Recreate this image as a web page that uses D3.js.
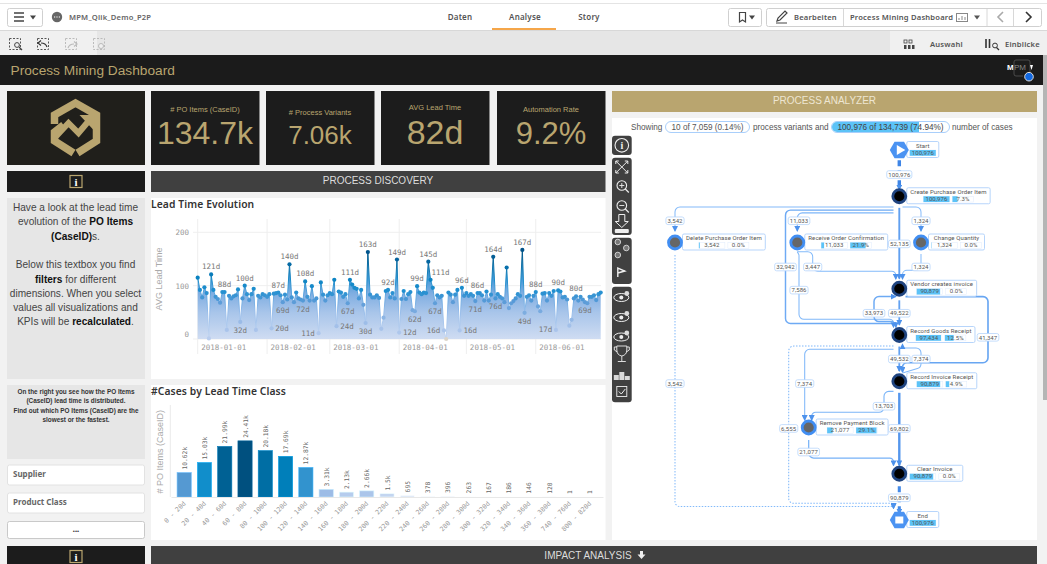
<!DOCTYPE html>
<html>
<head>
<meta charset="utf-8">
<title>Process Mining Dashboard</title>
<script src="https://cdnjs.cloudflare.com/ajax/libs/d3/7.8.5/d3.min.js"></script>
<style>
    html, body { margin: 0; padding: 0; background: #fff; overflow: hidden; }
    svg { display: block; }
    text { font-family: "Liberation Sans", Arial, sans-serif; }
    .mono text, text.mono { font-family: "DejaVu Sans Mono", monospace; }
    .ui { font-family: "Noto Sans", sans-serif; font-weight: 600; fill: #555; }
    .graph { font-family: Roboto, sans-serif; fill: #555; font-size: 6px; letter-spacing: .1px; }
</style>
</head>
<body>
<div id="container"></div>
<script>
// kpi tiles
const kpiTitles = ['# PO Items (CaseID)', '# Process Variants', 'AVG Lead Time', 'Automation Rate'];
const kpiValues = ['134.7k', '7.06k', '82d', '9.2%'];

// lead time evolution, one value per day from 2018-01-01
const leadTime = [
    115, 92, 78, 97, 86, 1, 121, 92, 79, 75, 68, 88, 88, 17, 81, 76, 80, 82, 93, 32,
    76, 100, 84, 73, 84, 94, 17, 81, 78, 84, 82, 79, 84, 20, 85, 86, 87, 82, 69, 83,
    74, 140, 78, 69, 87, 76, 74, 72, 108, 79, 72, 99, 72, 76, 11, 106, 83, 72, 82, 86,
    84, 111, 24, 89, 87, 79, 84, 67, 111, 102, 96, 94, 76, 92, 64, 30, 163, 83, 78, 78,
    82, 77, 19, 40, 90, 92, 78, 86, 76, 149, 12, 75, 90, 75, 84, 88, 54, 52, 99, 87,
    84, 87, 86, 145, 111, 96, 67, 82, 78, 81, 16, 0, 87, 83, 69, 83, 92, 16, 96, 81,
    86, 81, 84, 81, 71, 86, 86, 82, 72, 89, 72, 83, 154, 76, 84, 79, 76, 69, 134, 58,
    67, 71, 76, 84, 81, 167, 49, 79, 82, 72, 81, 88, 61, 52, 85, 86, 72, 86, 81, 90,
    17, 91, 89, 78, 79, 74, 25, 36, 76, 80, 72, 79, 74, 69, 67, 79, 79, 82, 73, 84, 87
];
const pointLabelIdx = [6, 12, 19, 21, 33, 36, 38, 41, 47, 48, 54, 62, 67, 68, 75, 76, 85, 89, 90, 97, 98, 103, 104, 106, 110, 117, 118, 124, 125, 132, 133, 145, 146, 151, 160, 161, 169, 173];
const pointLabelText = ['121d', '88d', '32d', '100d', '20d', '87d', '69d', '140d', '72d', '108d', '11d', '24d', '67d', '111d', '30d', '163d', '92d', '149d', '12d', '62d', '99d', '145d', '111d', '67d', '16d', '16d', '96d', '71d', '86d', '164d', '76d', '167d', '49d', '88d', '17d', '90d', '80d', '69d'];
const leadTicks = [0, 100, 200];

// cases by lead time class
const classNames = ['0 - 20d', '20 - 40d', '40 - 60d', '60 - 80d', '80 - 100d', '100 - 120d', '120 - 140d', '140 - 160d', '160 - 180d', '180 - 200d', '200 - 220d', '220 - 240d', '240 - 260d', '260 - 280d', '280 - 300d', '300 - 320d', '320 - 340d', '340 - 360d', '360 - 380d', '740 - 760d', '800 - 820d'];
const classCases = [10620, 15030, 21990, 24410, 20180, 17690, 12870, 3310, 2130, 2660, 1500, 695, 378, 396, 263, 167, 186, 146, 120, 1, 1];

// process graph nodes
const nodeNames = ['Start', 'Create Purchase Order Item', 'Delete Purchase Order Item', 'Receive Order Confirmation', 'Change Quantity', 'Vendor creates invoice', 'Record Goods Receipt', 'Record Invoice Receipt', 'Remove Payment Block', 'Clear Invoice', 'End'];
const nodeCases = [100976, 100976, 3542, 11033, 1324, 90879, 97434, 90879, 21077, 90879, 100976];
const nodeRework = [null, 7.3, 0, 21.9, 0, 0, 12.5, 4.9, 29.1, 0, null];
const nodeLane = ['main', 'main', 'del', 'recv', 'chg', 'main', 'main', 'main', 'rmv', 'main', 'main'];
const nodeRow = [0, 1, 2, 2, 2, 3, 4, 5, 6, 7, 8];

// process graph edges
const edgeFrom = ['Start', 'Create', 'Create', 'Create', 'Create', 'Create', 'Receive', 'Receive', 'Change', 'Vendor', 'Goods', 'Vendor', 'Goods', 'Invoice', 'Goods', 'Goods', 'Invoice', 'Invoice', 'Remove', 'Clear', 'Delete'];
const edgeTo = ['Create', 'Delete', 'Goods', 'Receive', 'Change', 'Vendor', 'Goods', 'Vendor', 'Vendor', 'Goods', 'Vendor', 'Invoice', 'Invoice', 'Goods', 'Remove', 'End', 'Remove', 'Clear', 'Clear', 'End', 'End'];
const edgeCases = [100976, 3542, 32942, 11033, 1324, 52135, 7586, 3447, 1324, 49522, 33973, 41347, 49532, 7374, 7374, 6555, 13703, 69802, 21077, 90879, 3542];

const width = 1047;
const height = 564;
const gold = '#b9a56f';
const fmt = d3.format(',');

const svg = d3.select('#container')
    .append('svg')
    .attr('width', width)
    .attr('height', height);

const defs = svg.append('defs');

// helper for plain rects
function box(parent, x, y, w, h, fill, stroke, r) {
    return parent.append('rect')
        .attr('x', x).attr('y', y)
        .attr('width', w).attr('height', h)
        .attr('rx', r || 0)
        .style('fill', fill)
        .style('stroke', stroke || 'none');
}

function label(parent, x, y, txt, size, color, anchor) {
    return parent.append('text')
        .attr('x', x).attr('y', y)
        .attr('text-anchor', anchor || 'middle')
        .style('font-size', size + 'px')
        .style('fill', color)
        .text(txt);
}

function stroked(parent, d, color, w) {
    return parent.append('path')
        .attr('d', d)
        .style('fill', 'none')
        .style('stroke', color)
        .style('stroke-width', w || 1);
}

// ---- app chrome ----
box(svg, 0, 0, width, height, '#f2f2f2');
box(svg, 0, 0, width, 31, '#fff');
svg.append('line').attr('x1', 0).attr('x2', width).attr('y1', 3.5).attr('y2', 3.5).style('stroke', '#e4e4e4');
svg.append('line').attr('x1', 0).attr('x2', width).attr('y1', 30.5).attr('y2', 30.5).style('stroke', '#d8d8d8');
box(svg, 0, 31, width, 24, '#e6e6e6');
box(svg, 0, 31, 97, 24, '#f0f0f0');
box(svg, 890, 31, 157, 24, '#f0f0f0');
box(svg, 1043, 55, 4, 345, '#b5b5b5');

// top row left
box(svg, 7.5, 8.5, 35, 18, '#fff', '#d0d0d0', 2);
stroked(svg, 'M14 13h10M14 17h10M14 21h10', '#444', 1.4);
svg.append('path').attr('d', 'M30 15.5h6l-3 4z').style('fill', '#444');
svg.append('circle').attr('cx', 57).attr('cy', 17).attr('r', 5.2).style('fill', '#666');
stroked(svg, 'M54 17h6', '#fff', 1.2).style('stroke-dasharray', '1.2 1.2');
svg.append('text').attr('class', 'ui').attr('x', 69).attr('y', 20).style('font-size', '7.6px').style('letter-spacing', '.2px').style('fill', '#666').text('MPM_Qlik_Demo_P2P');

// tabs
[['Daten', 460], ['Analyse', 525], ['Story', 589]].forEach(([t, x]) => {
    svg.append('text').attr('class', 'ui').attr('x', x).attr('y', 19.5).attr('text-anchor', 'middle')
        .style('font-size', '8px').style('letter-spacing', '.2px').text(t);
});
box(svg, 492, 28, 64, 2, '#f5a64a');

// top row right
box(svg, 728.5, 8.5, 33, 18, '#fff', '#d0d0d0', 2);
stroked(svg, 'M739.5 12.5h6v9.5l-3-2-3 2z', '#444', 1.2);
svg.append('path').attr('d', 'M749 15.5h6l-3 4z').style('fill', '#444');
box(svg, 766.5, 8.5, 275, 18, '#fff', '#d0d0d0', 2);
[843.5, 987, 1013.5].forEach((x) => {
    svg.append('line').attr('x1', x).attr('x2', x).attr('y1', 9).attr('y2', 26).style('stroke', '#d8d8d8');
});
stroked(svg, 'M777 21l1-3 7-7 2 2-7 7zM776 23h11', '#444', 1.2);
svg.append('text').attr('class', 'ui').attr('x', 794).attr('y', 20).style('font-size', '7.6px').style('letter-spacing', '.2px').text('Bearbeiten');
svg.append('text').attr('class', 'ui').attr('x', 850).attr('y', 20).style('font-size', '7.6px').style('letter-spacing', '.2px').text('Process Mining Dashboard');
box(svg, 956.5, 13.5, 11, 8, 'none', '#888');
stroked(svg, 'M959 20v-2M962 20v-4M965 20v-3', '#888', 1);
svg.append('path').attr('d', 'M974 15.5h6l-3 4z').style('fill', '#555');
stroked(svg, 'M1003 12l-5 5 5 5', '#aaa', 1.6);
stroked(svg, 'M1026 12l5 5-5 5', '#333', 1.6);

// second row, selection tools
[15, 43, 71, 99].forEach((x, i) => {
    box(svg, x - 5.5, 38.5, 11, 11, 'none', i < 2 ? '#555' : '#bbb').style('stroke-dasharray', '2 1.5');
});
svg.append('circle').attr('cx', 17).attr('cy', 45).attr('r', 2.4).style('fill', '#f0f0f0').style('stroke', '#444');
stroked(svg, 'M19 47l3 3', '#444', 1.2);
stroked(svg, 'M47 47c-1-3-3-4-6-4M41 40.500l-3 2.500 3 2.500', '#333', 1.2);
stroked(svg, 'M68 48c1-3 3-4 6-4M74 41.500l3 2.500-3 2.500', '#bbb', 1.2);
svg.append('circle').attr('cx', 101).attr('cy', 46).attr('r', 2.5).style('fill', '#f0f0f0').style('stroke', '#bbb');

box(svg, 904, 40, 3, 3, 'none', '#444').style('stroke-width', .8);
box(svg, 909, 40, 3, 3, 'none', '#444').style('stroke-width', .8);
box(svg, 904, 45, 2.5, 4, '#444');
box(svg, 908, 45, 2.5, 4, '#444');
box(svg, 912, 45, 2.5, 4, '#444');
svg.append('text').attr('class', 'ui').attr('x', 930).attr('y', 47).style('font-size', '7.6px').style('letter-spacing', '.2px').text('Auswahl');
stroked(svg, 'M986 39v9M989.500 39v9', '#333', 1.6);
svg.append('circle').attr('cx', 995).attr('cy', 45.500).attr('r', 2.400).style('fill', 'none').style('stroke', '#333');
stroked(svg, 'M996.500 47.500l2.500 2.500', '#333', 1.200);
svg.append('text').attr('class', 'ui').attr('x', 1005).attr('y', 47).style('font-size', '7.6px').style('letter-spacing', '.2px').text('Einblicke');

// dashboard title bar
box(svg, 0, 55, 1043, 30, '#1b1b1b');
label(svg, 10.5, 74.5, 'Process Mining Dashboard', 13.7, gold, 'start');
label(svg, 1007, 70, 'M', 8, '#fff', 'start').style('font-weight', 'bold');
label(svg, 1014, 70, 'PM', 8, '#888', 'start');
stroked(svg, 'M1016 60h12q2 0 2 2v11M1016 60q-2 0-2 2v12q0 2 2 2h7', '#555', .8);
svg.append('path').attr('d', 'M1030 65h3l-1.500 5z').style('fill', '#fff');
svg.append('circle').attr('cx', 1029).attr('cy', 76.700).attr('r', 4.300).style('fill', '#1268e0').style('stroke', '#ddd').style('stroke-width', 1);

// logo tile
box(svg, 7, 91, 138, 74, '#201f1b');
const logo = svg.append('g').attr('transform', 'translate(75.500,128)');
stroked(logo, 'M-21 -4V-13L0 -25L21 -13V13L2 25', gold, 7.500).style('stroke-linejoin', 'miter');
stroked(logo, 'M-2 25L-21 13V4L-12 -3', gold, 7.500);
stroked(logo, 'M-20 9L-7 -5L3 5L14 -8', gold, 6);
logo.append('path').attr('d', 'M4 -13H19V3z').style('fill', gold);

// kpi tiles
const kpiX = [151, 266, 381, 497];
const kpiSizes = [32, 26, 34, 31];
const kpiTitleY = [110, 113, 108, 110];
kpiTitles.forEach((t, i) => {
    box(svg, kpiX[i], 91, 108.500, 74, '#1c1c1c');
    label(svg, kpiX[i] + 54, kpiTitleY[i] + 2, t, 7.500, gold);
    label(svg, kpiX[i] + 54, 144, kpiValues[i], kpiSizes[i], gold);
});

// dark section bars
function infoBar(y, h) {
    box(svg, 7, y, 138, h, '#1c1c1c');
    box(svg, 70, y + 4.500, 12, 12, 'none', gold).style('stroke-width', 1.200);
    label(svg, 76, y + 14.500, 'i', 11, '#fff').style('font-weight', 'bold').style('font-family', 'Liberation Serif');
}
infoBar(171, 21);
infoBar(546, 18);
box(svg, 151, 171, 454.500, 21, '#404040');
label(svg, 378, 184, 'PROCESS DISCOVERY', 10, '#ddd');
box(svg, 151, 546, 886, 18, '#404040');
label(svg, 588, 558.500, 'IMPACT ANALYSIS', 10, '#ddd');
svg.append('path').attr('d', 'M640 551h3v3.500h2.500l-4 4.500-4-4.500h2.500z').style('fill', '#eee');

// left text boxes
box(svg, 7, 198, 138, 181, '#e6e6e6');
const introLines = [
    ['Have a look at the lead time'],
    ['evolution of the ', '*PO Items'],
    ['*(CaseID)', 's.'],
    [],
    ['Below this textbox you find'],
    ['*filters', ' for different'],
    ['dimensions. When you select'],
    ['values all visualizations and'],
    ['KPIs will be ', '*recalculated', '.']
];
introLines.forEach((parts, i) => {
    const line = label(svg, 75.500, 211 + i * 14.300, '', 10.100, '#444');
    parts.forEach((p) => {
        const isBold = p[0] === '*';
        line.append('tspan')
            .style('font-weight', isBold ? 'bold' : 'normal')
            .style('fill', isBold ? '#111' : '#444')
            .text(isBold ? p.slice(1) : p);
    });
});
box(svg, 7, 385, 138, 74, '#e6e6e6');
['On the right you see how the PO Items', '(CaseID) lead time is distributed.', 'Find out which PO Items (CaseID) are the', 'slowest or the fastest.'].forEach((t, i) => {
    label(svg, 76, 394 + i * 9.400, t, 6.400, '#333').style('font-weight', 'bold');
});
[[465, 'Supplier'], [493, 'Product Class']].forEach(([y, t]) => {
    box(svg, 7.500, y, 137, 20, '#fff', '#e2e2e2', 2);
    label(svg, 13, y + 12, t, 8, '#666', 'start').style('font-weight', 'bold').style('font-family', 'Noto Sans');
});
box(svg, 7.500, 521.500, 137, 17, '#fff', '#c9c9c9', 2);
label(svg, 76, 533, '•••', 6, '#444');

// ---- lead time evolution ----
box(svg, 151, 198, 454.500, 181, '#fff');
label(svg, 151, 208, 'Lead Time Evolution', 10.300, '#333', 'start').style('font-family', 'Noto Sans').style('font-weight', '600').style('letter-spacing', '.1px');

const dates = d3.utcDay.range(new Date(Date.UTC(2018, 0, 1)), new Date(Date.UTC(2018, 6, 1)));
const lineData = leadTime.map((v, i) => ({ date: dates[i], value: v, index: i }));

const xTime = d3.scaleUtc()
    .domain([dates[0], dates[dates.length - 1]])
    .range([197.700, 600.700]);
const yLead = d3.scaleLinear()
    .domain([0, 200])
    .range([339, 232.300]);

// gradients run over the value range so they use user space
function valueGradient(id, domain, colors) {
    const g = defs.append('linearGradient')
        .attr('id', id)
        .attr('gradientUnits', 'userSpaceOnUse')
        .attr('x1', 0).attr('x2', 0)
        .attr('y1', yLead(0)).attr('y2', yLead(170));
    domain.forEach((d, i) => {
        g.append('stop').attr('offset', d / 170).attr('stop-color', colors[i]);
    });
}
valueGradient('leadArea', [0, 50, 85, 110, 170], ['#cfdcf2', '#a8c5ea', '#80aee1', '#4a9cd9', '#0b6ca6']);
valueGradient('leadLine', [0, 50, 85, 110, 170], ['#c4d6f1', '#98bdea', '#5aa3de', '#1b8cca', '#00517f']);

const leadColor = d3.scaleLinear()
    .domain([0, 1, 30, 70, 90, 115, 170])
    .range(['#dcd5c9', '#b9cdee', '#9dbde8', '#5a9bd8', '#1f8fd0', '#0a82c0', '#004f85']);

const xTimeAxis = d3.axisBottom(xTime)
    .tickValues(d3.utcMonth.range(dates[0], dates[dates.length - 1]))
    .tickFormat(d3.utcFormat('%Y-%m-%d'))
    .tickSize(0);
const yLeadAxis = d3.axisLeft(yLead)
    .tickValues(leadTicks)
    .tickSize(0)
    .tickPadding(4);

// grid first, marks above
const leadGrid = svg.append('g');
leadTicks.forEach((t) => {
    leadGrid.append('line')
        .attr('x1', 193).attr('x2', 601)
        .attr('y1', yLead(t)).attr('y2', yLead(t))
        .style('stroke', '#efefef');
});
xTimeAxis.tickValues().forEach((t) => {
    leadGrid.append('line')
        .attr('x1', xTime(t)).attr('x2', xTime(t))
        .attr('y1', 219).attr('y2', 354)
        .style('stroke', '#eeeeee');
});

svg.append('path')
    .datum(lineData)
    .attr('d', d3.area().x((d) => xTime(d.date)).y0(yLead(0)).y1((d) => yLead(d.value)))
    .style('fill', 'url(#leadArea)');
svg.append('path')
    .datum(lineData)
    .attr('d', d3.line().x((d) => xTime(d.date)).y((d) => yLead(d.value)))
    .style('fill', 'none')
    .style('stroke', 'url(#leadLine)')
    .style('stroke-width', 1);
svg.selectAll('circle.lead')
    .data(lineData)
    .enter()
    .append('circle')
    .attr('class', 'lead')
    .attr('cx', (d) => xTime(d.date))
    .attr('cy', (d) => yLead(d.value))
    .attr('r', 2.100)
    .style('fill', (d) => leadColor(d.value));

const xG = svg.append('g')
    .attr('class', 'mono')
    .attr('transform', `translate(0, ${yLead(0)})`)
    .call(xTimeAxis);
xG.select('.domain').remove();
xG.selectAll('text')
    .attr('text-anchor', 'start')
    .attr('x', 3)
    .attr('y', 6)
    .style('font-size', '7.500px')
    .style('fill', '#999');

const yG = svg.append('g')
    .attr('class', 'mono')
    .attr('transform', 'translate(193, 0)')
    .call(yLeadAxis);
yG.select('.domain').remove();
yG.selectAll('text')
    .attr('y', (d) => d === 0 ? -5 : 0)
    .style('font-size', '7.500px')
    .style('fill', '#999');

svg.append('text')
    .attr('transform', 'translate(162, 279) rotate(-90)')
    .attr('text-anchor', 'middle')
    .style('font-size', '9px')
    .style('fill', '#aaa')
    .text('AVG Lead Time');

// where the value labels sit around their point
const sideOffset = { top: [0, -5], bottom: [0, 11], left: [-10.500, 2.500], right: [10.500, 2.500], upright: [10, -5] };
const leftLabels = [54, 110, 160];
const rightLabels = [33, 62, 90, 117];
svg.selectAll('text.pointLabel')
    .data(pointLabelIdx)
    .enter()
    .append('text')
    .attr('class', 'pointLabel mono')
    .attr('text-anchor', 'middle')
    .attr('x', (d) => {
        return xTime(dates[d]) + sideOffset[placeOf(d)][0];
    })
    .attr('y', (d) => {
        return yLead(leadTime[d]) + sideOffset[placeOf(d)][1];
    })
    .style('font-size', '7.500px')
    .style('fill', '#777')
    .text((d, i) => pointLabelText[i]);

function placeOf(i) {
    if (leftLabels.includes(i)) return 'left';
    if (rightLabels.includes(i)) return 'right';
    if (i === 104) return 'upright';
    return leadTime[i] < 80 ? 'bottom' : 'top';
}

// ---- cases by lead time class ----
box(svg, 151, 385, 454.500, 155, '#fff');
label(svg, 151, 395, '#Cases by Lead Time Class', 10.300, '#333', 'start').style('font-family', 'Noto Sans').style('font-weight', '600').style('letter-spacing', '.1px');

const xClass = d3.scaleBand()
    .domain(classNames)
    .range([171, 603])
    .padding(0.3);
const yCases = d3.scaleLinear()
    .domain([0, 40000])
    .range([497, 405]);
const casesColor = d3.scaleLinear()
    .domain([0, 600, 3300, 10600, 15000, 17700, 24400])
    .range(['#e8eff9', '#d6e2f5', '#9dbce6', '#5599d2', '#118ecb', '#007fba', '#00507f']);
const casesLabel = (v) => v >= 1000 ? +(v / 1000).toFixed(2) + 'k' : String(v);

svg.selectAll('rect.bar')
    .data(classCases)
    .enter()
    .append('rect')
    .attr('class', 'bar')
    .attr('x', (d, i) => xClass(classNames[i]))
    .attr('y', (d) => yCases(d))
    .attr('width', xClass.bandwidth())
    .attr('height', (d) => yCases(0) - yCases(d))
    .style('fill', (d) => casesColor(d))
    .style('stroke', (d) => d3.color(casesColor(d)).brighter(0.6))
    .style('stroke-width', 0.6);

svg.selectAll('text.barLabel')
    .data(classCases)
    .enter()
    .append('text')
    .attr('class', 'barLabel mono')
    .attr('transform', (d, i) => `translate(${xClass(classNames[i]) + xClass.bandwidth() / 2 + 2.500}, ${yCases(d) - 3}) rotate(-90)`)
    .style('font-size', '6.300px')
    .style('fill', '#666')
    .text((d) => casesLabel(d));

const xClassAxis = d3.axisBottom(xClass).tickSize(0);
const classG = svg.append('g')
    .attr('class', 'mono')
    .attr('transform', `translate(0, ${yCases(0)})`)
    .call(xClassAxis);
classG.select('.domain').style('stroke', '#e8e8e8');
classG.selectAll('text')
    .attr('text-anchor', 'end')
    .attr('x', 0)
    .attr('y', 0)
    .attr('dy', 0)
    .attr('transform', 'translate(2, 7) rotate(-45)')
    .style('font-size', '6.500px')
    .style('fill', '#999');

svg.append('line')
    .attr('x1', 170.300).attr('x2', 170.300)
    .attr('y1', 405).attr('y2', 497)
    .style('stroke', '#eaeaea');
svg.append('text')
    .attr('transform', 'translate(163, 451.700) rotate(-90)')
    .attr('text-anchor', 'middle')
    .style('font-size', '9px')
    .style('fill', '#aaa')
    .text('# PO Items (CaseID)');

// ---- process analyzer ----
box(svg, 612, 91, 425, 21, gold);
label(svg, 824.500, 104, 'PROCESS ANALYZER', 10, '#eee6d2');
box(svg, 612, 118, 425, 422, '#fff');

// showing line
const showY = 130;
label(svg, 631, showY, 'Showing', 8.200, '#555', 'start');
label(svg, 753, showY, 'process variants and', 8.200, '#555', 'start');
label(svg, 952, showY, 'number of cases', 8.200, '#555', 'start');
box(svg, 665.500, 121.500, 84, 11, '#fff', '#a9cffb', 5.500);
box(svg, 831.500, 121.500, 118, 11, '#fff', '#a9cffb', 5.500);
svg.append('path').attr('d', 'M837 122h82v10h-82a5 5 0 0 1 0-10z').style('fill', '#5cc3f7');
label(svg, 707.500, showY, '10 of 7,059 (0.14%)', 8.200, '#555');
label(svg, 890.500, showY, '100,976 of 134,739 (74.94%)', 8.200, '#444');

// tool strip
const tools = svg.append('g');
[[135.700, 19.300], [157.700, 77.300], [237.700, 46.300], [286.700, 115.600]].forEach(([y, h]) => {
    box(tools, 612, y, 19.700, h, '#404040', null, 3);
});
const cx = 621.800;
function ring(y, r) {
    tools.append('circle').attr('cx', cx).attr('cy', y).attr('r', r).style('fill', 'none').style('stroke', '#eee').style('stroke-width', 1.100);
}
ring(145.300, 6.800);
label(tools, cx, 149, 'i', 10, '#eee').style('font-weight', 'bold').style('font-family', 'Liberation Serif');
stroked(tools, `M${cx - 6} 161l12 12M${cx + 6} 161l-12 12M${cx - 6} 164v-3h3M${cx + 6} 170v3h-3M${cx + 3} 161h3v3M${cx - 6} 170v3h3`, '#eee', 1);
[185.500, 205.500].forEach((y, i) => {
    ring(y, 4.800);
    stroked(tools, `M${cx - 2.500} ${y}h5` + (i === 0 ? `M${cx} ${y - 2.500}v5` : ''), '#eee', .9);
    stroked(tools, `M${cx + 3.500} ${y + 3.500}l3.500 3.500`, '#eee', 1.200);
});
tools.append('path').attr('d', `M${cx - 3} 214.500h6v7h3.500l-6.500 6-6.500-6h3.500z`).style('fill', 'none').style('stroke', '#eee');
box(tools, cx - 7, 229, 14, 4, '#eee', null, 1);
[[-4, 242], [4.500, 248], [-4, 255]].forEach(([dx, y]) => {
    tools.append('circle').attr('cx', cx + dx).attr('cy', y).attr('r', 2.800).style('fill', '#777').style('stroke', '#ddd').style('stroke-width', .9);
});
stroked(tools, `M${cx - 4} 277v-9l7 3-7 2`, '#eee', 1.400);
[295.500, 315.500, 335].forEach((y) => {
    tools.append('ellipse').attr('cx', cx - .5).attr('cy', y + 2).attr('rx', 7.500).attr('ry', 4).style('fill', 'none').style('stroke', '#eee');
    tools.append('circle').attr('cx', cx - .5).attr('cy', y + 2).attr('r', 2).style('fill', '#eee');
    tools.append('circle').attr('cx', cx + 5).attr('cy', y - 2).attr('r', 2.400).style('fill', '#ddd');
});
stroked(tools, `M${cx - 5} 346h10v4q0 5-5 6q-5-1-5-6zM${cx} 356v5M${cx - 4} 361.500h8M${cx - 5} 347h-2.500v3l3 2M${cx + 5} 347h2.500v3l-3 2`, '#eee', .9);
box(tools, cx - 8, 375, 5, 5, '#d8d8d8');
box(tools, cx - 2.500, 372, 5, 8, '#d8d8d8');
box(tools, cx + 3, 376, 5, 4, '#d8d8d8');
box(tools, cx - 5, 386.500, 10, 10, 'none', '#eee').style('stroke-width', .9);
stroked(tools, `M${cx - 3} 391.500l2.500 2.500l4-5`, '#eee', 1);

// graph scales, rows are process steps, lanes are the vertical runs of the layout
const yRow = d3.scaleLinear().domain([0, 8]).range([150, 520]);
const xLane = d3.scaleOrdinal()
    .domain(['del', 'far', 'dot', 'recv', 'drop', 'back', 'rmv', 'in', 'fork', 'loop', 'kink', 'inL', 'inL2', 'main', 'inR', 'outR', 'chg', 'wide'])
    .range([675, 785.500, 788.700, 797.300, 799, 804.700, 808.700, 811.700, 812.700, 874, 884, 893.500, 895.800, 899.300, 902.500, 905.500, 921, 988]);

// lane and row of every bend of every edge, and where its count sits
const routes = [
    { pts: [['main', 0.22], ['main', 0.86]], at: ['main', 0.53] },
    { pts: [['inL', 1.232], ['del', 1.232], ['del', 1.75]], at: ['del', 1.53] },
    { pts: [['inL', 1.3], ['far', 1.3], ['far', 3.75], ['inL2', 3.75], ['inL2', 3.83]], at: ['far', 2.53] },
    { pts: [['inL', 1.36], ['recv', 1.36], ['recv', 1.75]], at: ['drop', 1.53] },
    { pts: [['inR', 1.232], ['chg', 1.232], ['chg', 1.75]], at: ['chg', 1.53] },
    { pts: [['main', 1.25], ['main', 2.78]], at: ['main', 2.03] },
    { pts: [['recv', 2.2], ['drop', 2.27], ['drop', 3.66], ['inL', 3.66], ['inL', 3.83]], at: ['drop', 3.03] },
    { pts: [['recv', 2.2], ['fork', 2.2], ['fork', 2.62], ['inL2', 2.62], ['inL2', 2.79]], at: ['fork', 2.53] },
    { pts: [['chg', 2.25], ['chg', 2.6], ['inR', 2.6], ['inR', 2.79]], at: ['chg', 2.53] },
    { pts: [['main', 3.25], ['main', 3.78]], at: ['main', 3.53] },
    { pts: [['inL', 3.71], ['loop', 3.71], ['loop', 3.17], ['inL2', 3.17]], at: ['loop', 3.53] },
    { pts: [['outR', 3.17], ['wide', 3.17], ['wide', 4.6], ['inR', 4.6], ['inR', 4.8]], at: ['wide', 4.05] },
    { pts: [['main', 4.25], ['main', 4.78]], at: ['main', 4.52] },
    { pts: [['inR', 4.82], ['chg', 4.7], ['chg', 4.28], ['inR', 4.28], ['inR', 4.2]], at: ['chg', 4.52] },
    { pts: [['inL', 4.31], ['back', 4.31], ['back', 5.84]], at: ['back', 5.05] },
    { pts: [['inL', 4.24], ['dot', 4.24], ['dot', 7.64], ['inL', 7.64], ['inL', 7.74]], at: ['dot', 6.02] },
    { pts: [['inL', 5.22], ['kink', 5.22], ['kink', 5.67], ['in', 5.67], ['in', 5.84]], at: ['kink', 5.54] },
    { pts: [['main', 5.25], ['main', 6.82]], at: ['main', 6.02] },
    { pts: [['rmv', 6.27], ['rmv', 6.66], ['inL', 6.66], ['inL', 6.82]], at: ['rmv', 6.53] },
    { pts: [['main', 7.27], ['main', 7.86]], at: ['main', 7.52] },
    { pts: [['del', 2.27], ['del', 7.71], ['inL', 7.71], ['inL', 7.75]], at: ['del', 5.05] }
];

const edgeColor = d3.scaleLinear().domain([0, 100000]).range(['#85bcfb', '#3f86e6']);
const edgeWidth = d3.scalePow().exponent(1.5).domain([0, 100000]).range([1, 3.400]);

defs.append('marker')
    .attr('id', 'arrow')
    .attr('viewBox', '0 0 6 6')
    .attr('refX', 5).attr('refY', 3)
    .attr('markerWidth', 6).attr('markerHeight', 6)
    .attr('markerUnits', 'userSpaceOnUse')
    .attr('orient', 'auto')
    .append('path')
    .attr('d', 'M0 0L6 3L0 6z')
    .style('fill', '#4d92ec');

// orthogonal route with rounded bends, short legs get a smaller radius
function routePath(pts) {
    const p = d3.path();
    const xy = pts.map(([l, r]) => [xLane(l), yRow(r)]);
    const len = (a, b) => Math.hypot(a[0] - b[0], a[1] - b[1]);
    p.moveTo(xy[0][0], xy[0][1]);
    xy.slice(1, -1).forEach((c, i) => {
        const a = xy[i];
        const b = xy[i + 2];
        const r = Math.min(5, len(a, c) / 2, len(c, b) / 2);
        p.arcTo(c[0], c[1], b[0], b[1], r);
    });
    p.lineTo(xy[xy.length - 1][0], xy[xy.length - 1][1]);
    return p.toString();
}

const graph = svg.append('g');
const edgeData = edgeCases.map((v, i) => ({ value: v, from: edgeFrom[i], to: edgeTo[i], route: routes[i] }));

graph.selectAll('path.edge')
    .data(edgeData)
    .enter()
    .append('path')
    .attr('class', 'edge')
    .attr('d', (d) => routePath(d.route.pts))
    .attr('marker-end', 'url(#arrow)')
    .style('fill', 'none')
    .style('stroke', (d) => edgeColor(d.value))
    .style('stroke-width', (d) => edgeWidth(d.value))
    .style('stroke-dasharray', (d) => {
        if (d.from === 'Start' || d.from === 'Clear') return '6 4';
        return d.to === 'End' ? '1.500 1.500' : null;
    });

// nodes
const nodeData = nodeNames.map((n, i) => ({
    name: n, cases: nodeCases[i], rework: nodeRework[i], lane: nodeLane[i], row: nodeRow[i]
}));
const maxCases = d3.max(nodeCases);
const cellH = 5.800;
const nodes = graph.selectAll('g.node')
    .data(nodeData)
    .enter()
    .append('g')
    .attr('class', 'node')
    .attr('transform', (d) => `translate(${xLane(d.lane)}, ${yRow(d.row)})`);

nodes.each(function(d) {
    const g = d3.select(this);
    const isTerminal = d.rework === null;
    const isMain = d.cases > 50000;

    // label box, sized from its name
    const boxG = g.append('g').attr('transform', 'translate(7.500, -8.500)');
    const rect = boxG.append('rect')
        .attr('height', 16)
        .attr('rx', 1.500)
        .style('fill', '#fff')
        .style('stroke', '#b7d5fb');
    const nameT = boxG.append('text')
        .attr('class', 'graph')
        .attr('y', 6.200)
        .attr('text-anchor', 'middle')
        .text(d.name);
    const cellsW = isTerminal ? 26 : 50;
    const w = Math.max(nameT.node().getComputedTextLength() + 7, cellsW + 6);
    rect.attr('width', w);
    nameT.attr('x', w / 2);

    function cell(x, cw, frac, txt) {
        box(boxG, x, 8.500, cw, cellH, '#fff', '#dfecfd').style('stroke-width', .5);
        box(boxG, x, 8.500, cw * frac, cellH, '#5cc3f7');
        boxG.append('text').attr('class', 'graph')
            .attr('x', x + cw / 2).attr('y', 13.200)
            .attr('text-anchor', 'middle')
            .text(txt);
    }
    const cellX = (w - cellsW) / 2;
    cell(cellX, 26, d.cases / maxCases, fmt(d.cases));
    if (!isTerminal) {
        cell(cellX + 29, 21, d.rework / 30, d.rework.toFixed(1) + '%');
    }

    if (isTerminal) {
        const hex = d3.range(6).map((k) => {
            const a = Math.PI / 3 * k;
            return [9.500 * Math.cos(a), 9.500 * Math.sin(a)];
        });
        g.append('path').attr('d', d3.line()(hex) + 'z').style('fill', '#4b93f2');
        if (d.name === 'Start') {
            g.append('path').attr('d', 'M-2.500 -5L6 0L-2.500 5z').style('fill', '#fff');
        } else {
            box(g, -4, -3.500, 8, 7, '#fff');
        }
    } else {
        g.append('circle').attr('r', 6.500)
            .style('fill', isMain ? '#000' : '#666')
            .style('stroke', isMain ? '#1f4480' : '#418ef2')
            .style('stroke-width', 2.800);
    }
});

// count pills on the edges, above lines and nodes
const pills = graph.selectAll('g.pill')
    .data(edgeData)
    .enter()
    .append('g')
    .attr('class', 'pill')
    .attr('transform', (d) => `translate(${xLane(d.route.at[0])}, ${yRow(d.route.at[1])})`);
pills.append('rect')
    .attr('y', -3.800)
    .attr('height', 7.600)
    .attr('rx', 2)
    .style('fill', '#fff')
    .style('stroke', '#b7d5fb')
    .style('stroke-width', .8);
pills.append('text')
    .attr('class', 'graph')
    .attr('text-anchor', 'middle')
    .attr('y', 2.200)
    .text((d) => fmt(d.value));
pills.each(function() {
    const w = d3.select(this).select('text').node().getComputedTextLength() + 3;
    d3.select(this).select('rect').attr('x', -w / 2).attr('width', w);
});
</script>
</body>
</html>
